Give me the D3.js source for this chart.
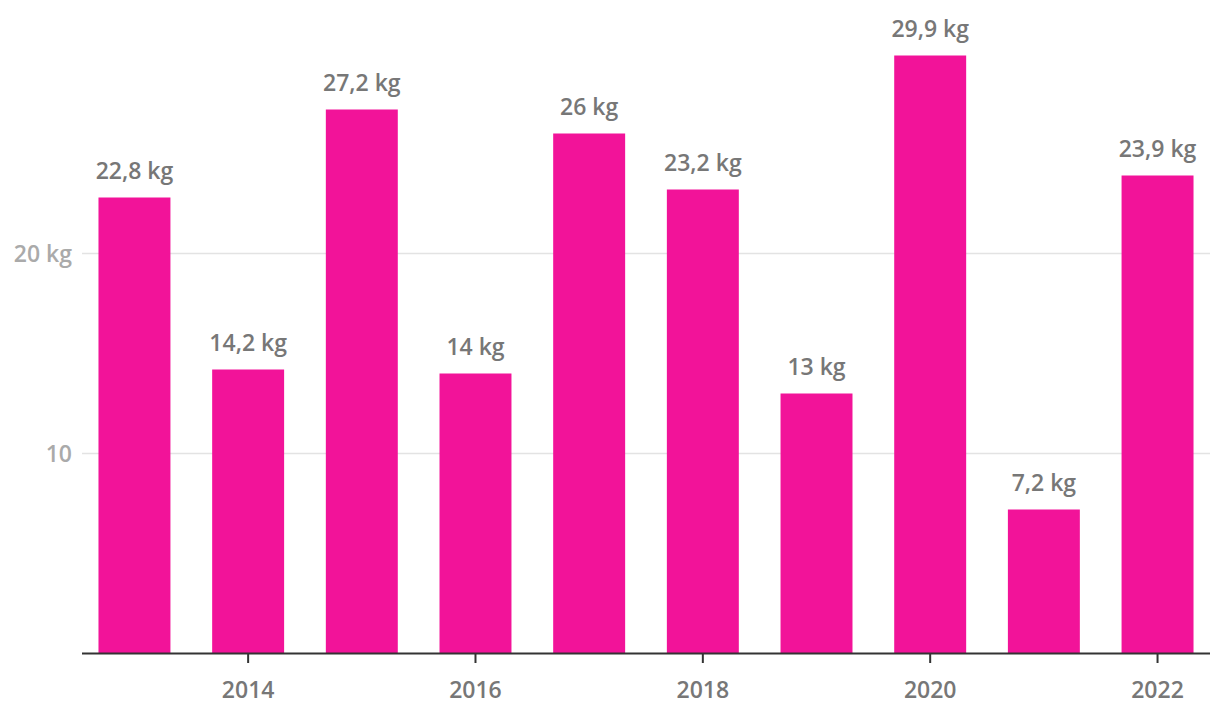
<!DOCTYPE html>
<html><head><meta charset="utf-8">
<script src="https://cdn.jsdelivr.net/npm/d3@7"></script>
<style>body{margin:0;background:#fff;} text{font-family:"Open Sans",sans-serif;}</style>
</head><body>
<svg id="c" width="1220" height="728"></svg>
<script>
const years = [2013,2014,2015,2016,2017,2018,2019,2020,2021,2022];
const values = [22.8,14.2,27.2,14,26,23.2,13,29.9,7.2,23.9];
const labels = ["22,8 kg","14,2 kg","27,2 kg","14 kg","26 kg","23,2 kg","13 kg","29,9 kg","7,2 kg","23,9 kg"];
const xTicks = [2014,2016,2018,2020,2022];
const yTicks = [10,20];
const yTickLabels = ["10","20 kg"];

const svg = d3.select("#c");
const x = d3.scaleBand().domain(years).range([82,1210]).paddingInner(0.367).paddingOuter(0.145);
const y = d3.scaleLinear().domain([0,30]).range([653.5,53.5]);

svg.append("g").selectAll("line").data(yTicks).join("line")
  .attr("x1",82).attr("x2",1210)
  .attr("y1",d=>y(d)).attr("y2",d=>y(d))
  .attr("stroke","#e3e3e3").attr("stroke-width",1.5);

svg.append("g").selectAll("text").data(yTicks).join("text")
  .attr("x",72).attr("y",d=>y(d)).attr("dy","0.35em")
  .attr("text-anchor","end").attr("fill","#aaaaaa")
  .attr("font-size",23).attr("font-weight",600)
  .text((d,i)=>yTickLabels[i]);

svg.append("g").selectAll("rect").data(values).join("rect")
  .attr("x",(d,i)=>x(years[i])).attr("width",x.bandwidth())
  .attr("y",d=>y(d)).attr("height",d=>y(0)-y(d))
  .attr("fill","#f21399");

svg.append("g").selectAll("text").data(values).join("text")
  .attr("x",(d,i)=>x(years[i])+x.bandwidth()/2)
  .attr("y",d=>y(d)-19)
  .attr("text-anchor","middle").attr("fill","#777777")
  .attr("font-size",23).attr("font-weight",600)
  .text((d,i)=>labels[i]);

const ax = svg.append("g");
ax.append("line").attr("x1",82).attr("x2",1210).attr("y1",653.5).attr("y2",653.5)
  .attr("stroke","#333").attr("stroke-width",2);
ax.selectAll("line.t").data(xTicks).join("line").attr("class","t")
  .attr("x1",d=>x(d)+x.bandwidth()/2).attr("x2",d=>x(d)+x.bandwidth()/2)
  .attr("y1",653).attr("y2",663).attr("stroke","#333").attr("stroke-width",2);
ax.selectAll("text").data(xTicks).join("text")
  .attr("x",d=>x(d)+x.bandwidth()/2).attr("y",690).attr("dy","0.35em")
  .attr("text-anchor","middle").attr("fill","#777777")
  .attr("font-size",23).attr("font-weight",600)
  .text(d=>d);
</script>
</body></html>
